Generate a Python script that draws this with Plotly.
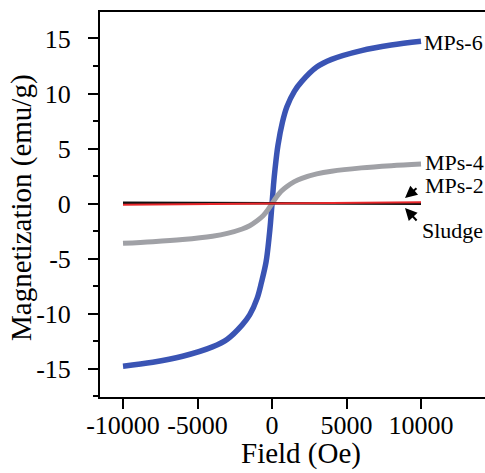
import plotly.graph_objects as go

# ---- data ----
field_mps6 = [-10000, -8000, -6000, -4000, -3000, -2000, -1500, -1000, -700, -400, -200, -100,
              0, 100, 200, 400, 700, 1000, 1500, 2000, 3000, 4000, 6000, 8000, 10000]
m_mps6 = [-14.75, -14.4, -13.85, -13.0, -12.3, -11.0, -10.1, -8.6, -7.1, -5.3, -3.1, -1.7,
          0.0, 1.7, 3.1, 5.3, 7.4, 8.8, 10.2, 11.1, 12.4, 13.1, 13.9, 14.4, 14.75]

field_mps4 = [-10000, -8000, -6000, -4000, -3000, -2000, -1500, -1000, -600, -300,
              0, 300, 600, 1000, 1500, 2000, 3000, 4000, 6000, 8000, 10000]
m_mps4 = [-3.6, -3.45, -3.25, -2.95, -2.7, -2.3, -2.0, -1.55, -1.1, -0.6,
          0.0, 0.6, 1.1, 1.55, 2.0, 2.3, 2.7, 2.95, 3.25, 3.45, 3.6]

field_mps2 = [-10000, -5000, 0, 5000, 10000]
m_mps2 = [-0.1, -0.05, 0.0, 0.06, 0.12]

field_sludge = [-10000, -5000, 0, 5000, 10000]
m_sludge = [0.08, 0.06, 0.04, 0.02, 0.0]

x_ticks = [-10000, -5000, 0, 5000, 10000]
y_ticks = [-15, -10, -5, 0, 5, 10, 15]

labels = ["MPs-6", "MPs-4", "MPs-2", "Sludge"]

FONT = "Liberation Serif, Times New Roman, Tinos, serif"

fig = go.Figure()
fig.add_trace(go.Scatter(x=field_mps6, y=m_mps6, mode="lines", name=labels[0],
                         line=dict(color="#3a54b4", width=5.5, shape="spline")))
fig.add_trace(go.Scatter(x=field_mps4, y=m_mps4, mode="lines", name=labels[1],
                         line=dict(color="#a0a1a6", width=5, shape="spline")))
fig.add_trace(go.Scatter(x=field_sludge, y=m_sludge, mode="lines", name=labels[3],
                         line=dict(color="#111111", width=2.5)))
fig.add_trace(go.Scatter(x=field_mps2, y=m_mps2, mode="lines", name=labels[2],
                         line=dict(color="#e8262a", width=2)))

def px_x(p):
    return (p - 100) / 385.0

def px_y(p):
    return (397 - p) / 385.0

ann = []
# curve labels
for txt, (x, y) in zip(labels, [(422, 42), (423, 162), (423, 185), (420, 230)]):
    ann.append(dict(text=txt, x=px_x(x), y=px_y(y), xref="paper", yref="paper",
                    xanchor="left", yanchor="middle", showarrow=False,
                    font=dict(family=FONT, size=22, color="black")))
# arrows
ann.append(dict(text="", x=px_x(405), y=px_y(198), xref="paper", yref="paper",
                ax=13, ay=-11, showarrow=True, arrowhead=2, arrowsize=1.2,
                arrowwidth=2, arrowcolor="black"))
ann.append(dict(text="", x=px_x(405), y=px_y(208), xref="paper", yref="paper",
                ax=13, ay=14, showarrow=True, arrowhead=2, arrowsize=1.2,
                arrowwidth=2, arrowcolor="black"))
# axis titles
ann.append(dict(text="Field (Oe)", x=px_x(301), y=px_y(453), xref="paper", yref="paper",
                xanchor="center", yanchor="middle", showarrow=False,
                font=dict(family=FONT, size=29, color="black")))
ann.append(dict(text="Magnetization (emu/g)", x=px_x(22), y=px_y(208), xref="paper", yref="paper",
                xanchor="center", yanchor="middle", showarrow=False, textangle=-90,
                font=dict(family=FONT, size=29, color="black")))

fig.update_layout(
    width=485, height=473,
    margin=dict(l=100, r=0, t=12, b=76),
    paper_bgcolor="white", plot_bgcolor="white",
    showlegend=False,
    annotations=ann,
    font=dict(family=FONT, size=26, color="black"),
)
fig.update_xaxes(
    range=[-11544, 14295], tickvals=x_ticks, ticktext=[str(v) for v in x_ticks],
    ticks="outside", ticklen=10, tickwidth=2, tickcolor="black",
    showline=True, linewidth=2, linecolor="black", mirror=True,
    showgrid=False, zeroline=False,
    ticklabelstandoff=-6,
    tickfont=dict(family=FONT, size=26, color="black"),
)
fig.update_yaxes(
    range=[-17.55, 17.4], tickvals=y_ticks, ticktext=[str(v) for v in y_ticks],
    ticks="outside", ticklen=10, tickwidth=2, tickcolor="black",
    minor=dict(tickvals=[-17.5, -12.5, -7.5, -2.5, 2.5, 7.5, 12.5], ticks="outside",
               ticklen=5, tickwidth=2, tickcolor="black"),
    showline=True, linewidth=2, linecolor="black",
    showgrid=False, zeroline=False,
    ticklabelstandoff=12,
    tickfont=dict(family=FONT, size=26, color="black"),
)

fig.write_html("out.html", config={"displayModeBar": False},
               post_script="document.body.style.margin='0';")
